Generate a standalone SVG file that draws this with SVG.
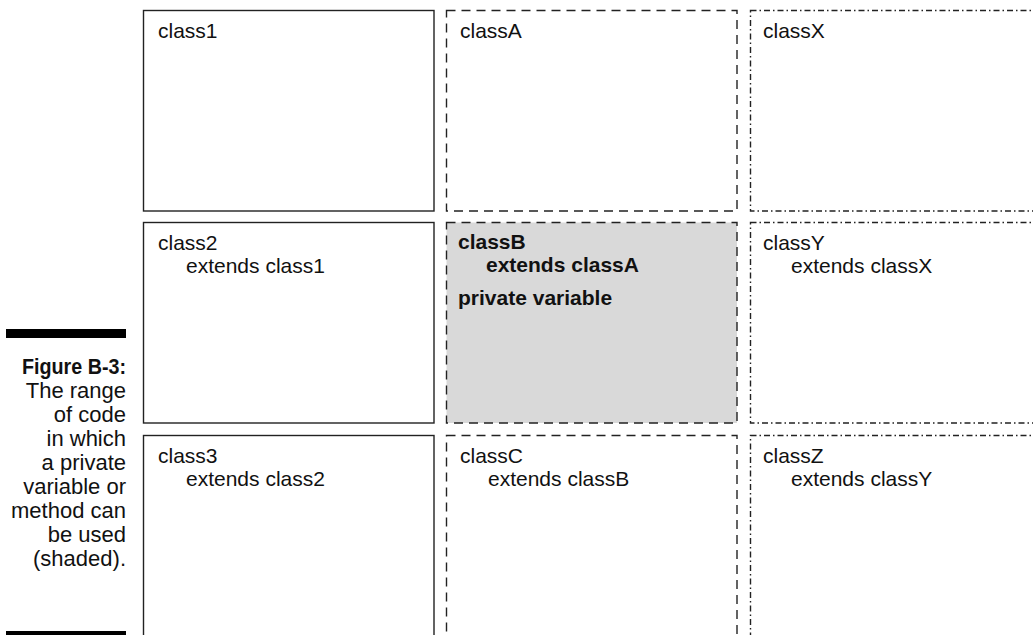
<svg xmlns="http://www.w3.org/2000/svg" width="1033" height="635" viewBox="0 0 1033 635">
<style>
.solid{fill:#fff;stroke:#222;stroke-width:1.4}
.dash{fill:#fff;stroke:#222;stroke-width:1.4;stroke-dasharray:9 6}
.shade{fill:#d9d9d9}
.dd{fill:#fff;stroke:#222;stroke-width:1.4;stroke-dasharray:6 3 1.5 3}
.t{font-family:"Liberation Sans",Arial,sans-serif;font-size:21px;fill:#111}
.b{font-weight:bold}
.cap{font-family:"Liberation Sans",Arial,sans-serif;font-size:22px;fill:#111;text-anchor:end}
</style>
<rect width="1033" height="635" fill="#fff"/>
<g id="caption">
<rect x="6" y="329" width="120" height="9" fill="#000"/>
<text class="cap b" x="126" y="374" textLength="104" lengthAdjust="spacingAndGlyphs">Figure B-3:</text>
<text class="cap" x="126" y="398">The range</text>
<text class="cap" x="126" y="422">of code</text>
<text class="cap" x="126" y="446">in which</text>
<text class="cap" x="126" y="470">a private</text>
<text class="cap" x="126" y="494">variable or</text>
<text class="cap" x="126" y="518">method can</text>
<text class="cap" x="126" y="542">be used</text>
<text class="cap" x="126" y="566">(shaded).</text>
<rect x="6" y="631" width="120" height="9" fill="#000"/>
</g>
<g id="class1"><rect class="solid" x="143.5" y="10.5" width="290.5" height="200.5"/><text class="t" x="158" y="38">class1</text></g>
<g id="classA"><rect class="dash" x="446.5" y="10.5" width="290.5" height="200.5"/><text class="t" x="460" y="38">classA</text></g>
<g id="classX"><rect class="dd" x="750.5" y="10.5" width="300" height="200.5"/><text class="t" x="763" y="38">classX</text></g>
<g id="class2"><rect class="solid" x="143.5" y="222.5" width="290.5" height="200.5"/><text class="t" x="158" y="250">class2</text><text class="t" x="186" y="273">extends class1</text></g>
<g id="classB"><rect class="shade" x="446.5" y="222.5" width="290.5" height="200.5"/><rect class="dash" x="446.5" y="222.5" width="290.5" height="200.5" style="fill:none"/><text class="t b" x="458" y="249">classB</text><text class="t b" x="486" y="272">extends classA</text><text class="t b" x="458" y="305">private variable</text></g>
<g id="classY"><rect class="dd" x="750.5" y="222.5" width="300" height="200.5"/><text class="t" x="763" y="250">classY</text><text class="t" x="791" y="273">extends classX</text></g>
<g id="class3"><rect class="solid" x="143.5" y="435.5" width="290.5" height="220"/><text class="t" x="158" y="463">class3</text><text class="t" x="186" y="486">extends class2</text></g>
<g id="classC"><rect class="dash" x="446.5" y="435.5" width="290.5" height="220"/><text class="t" x="460" y="463">classC</text><text class="t" x="488" y="486">extends classB</text></g>
<g id="classZ"><rect class="dd" x="750.5" y="435.5" width="300" height="220"/><text class="t" x="763" y="463">classZ</text><text class="t" x="791" y="486">extends classY</text></g>
<g id="connectors"/>
</svg>
